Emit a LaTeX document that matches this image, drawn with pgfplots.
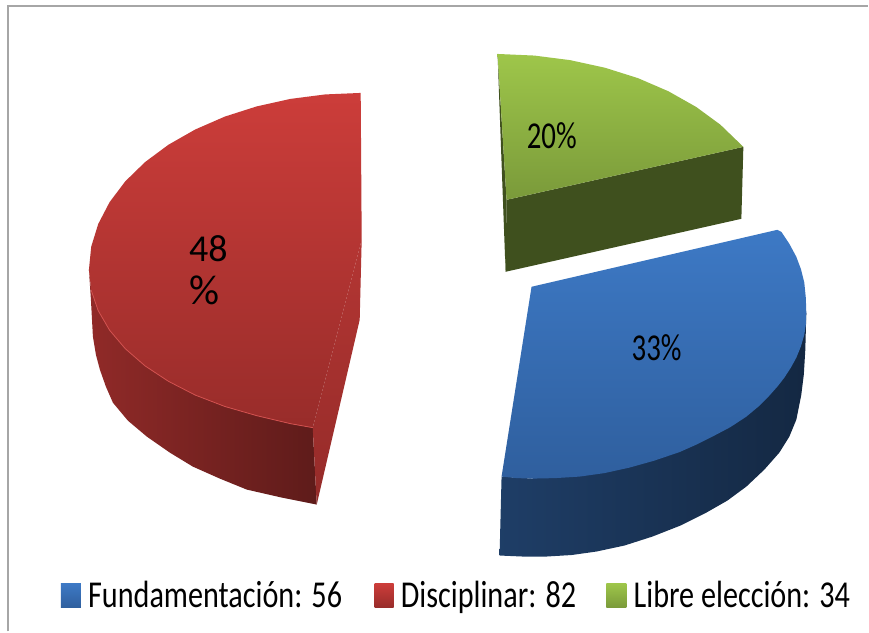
\documentclass[border=0pt]{standalone}
\usepackage{fontspec}
\setmainfont{Carlito}
\usepackage{pgfplots}
\pgfplotsset{compat=1.18}
\definecolor{rt}{HTML}{CC3D3A}\definecolor{rb}{HTML}{982C2A}
\definecolor{bt}{HTML}{3D79C5}\definecolor{bb}{HTML}{2F5F9E}
\definecolor{gt}{HTML}{9EC64A}\definecolor{gb}{HTML}{7A9A3A}
\newcommand{\lab}[1]{\fontsize{38}{38}\selectfont\scalebox{0.795}[1]{#1}}
\newcommand{\labp}[1]{\fontsize{38}{38}\selectfont\scalebox{0.76}[1]{#1}}
\begin{document}
\begin{tikzpicture}
\begin{axis}[scale only axis,width=869pt,height=632pt,xmin=0,xmax=869,ymin=0,ymax=632,y dir=reverse,axis lines=none,clip=false]
% page
\addplot[draw=none,fill=white] coordinates {(0,0)(869,0)(869,632)(0,632)} -- cycle;
% frame
\addplot[draw=gray!70,line width=1.5pt] coordinates {(8,632) (8,6) (869,6)};
% red
\addplot[draw=none,left color=rb!95!black,right color=rb!62!black] coordinates {(89,270)(91,300)(93,337)(96,355)(100,370)(106,387)(113,403)(128,421)(147,437)(170,453)(193,467)(220,479)(247,490)(282,498)(317,505)(313,428)(290.6,424)(256.9,416)(225,406.8)(195.4,395.4)(168.7,381.7)(145.2,366.2)(125.4,349)(109.7,330.5)(98.3,310.9)(91.3,290.6)} -- cycle;
\addplot[draw=none,top color=rt!88!black,bottom color=rb!98!black] coordinates {(362,240)(313,428)(317,505)(360,320)} -- cycle;
\addplot[draw=none,top color=rt,bottom color=rb] coordinates {(361,93)(325.5,94.5)(290.6,99)(256.9,106.5)(225,116.7)(195.4,129.6)(168.7,144.8)(145.2,162.2)(125.4,181.5)(109.7,202.3)(98.3,224.2)(91.3,246.9)(89,270)(91.3,290.6)(98.3,310.9)(109.7,330.5)(125.4,349)(145.2,366.2)(168.7,381.7)(195.4,395.4)(225,406.8)(256.9,416)(290.6,424)(313,428)(362,240)} -- cycle;
\addplot[draw=rt!90!white,line width=0.8pt] coordinates {(91.3,290.6)(98.3,310.9)(109.7,330.5)(125.4,349)(145.2,366.2)(168.7,381.7)(195.4,395.4)(225,406.8)(256.9,416)(290.6,424)(313,428)};
% green
\addplot[draw=none,fill=gb!52!black] coordinates {(744,147)(742,219)(506,272)(507,200)} -- cycle;
\addplot[draw=none,fill=gb!52!black] coordinates {(498,54)(507,200)(506,272)} -- cycle;
\addplot[draw=none,top color=gt,bottom color=gb] coordinates {(498,54)(534.7,55.6)(570.7,60.2)(605.5,67.8)(638.5,78.2)(669.1,91.4)(696.7,107)(721,124.8)(744,147)(507,200)} -- cycle;
% blue
\addplot[draw=none,left color=bb!65!black,right color=bb!42!black] coordinates {(807,313)(806,350)(804.5,375)(802,395)(797,420)(790,437)(780,453)(765,470)(747,487)(728,501)(707,513)(681,526)(653,537)(625,546)(597,552)(572,555.5)(547,557)(523,557)(500,556)(502,477)(533,479)} -- cycle;
\addplot[draw=none,top color=bt,bottom color=bb] coordinates {(532,287)(778,230)(782,232)(790,244)(797,257)(801.5,269)(805,283)(806.5,298)(807,313)(806.5,325)(805,335)(801.5,347)(797,358)(791.5,368)(785,378)(778,387)(770,396)(759,407)(747,417)(731,427.5)(713,437)(697,445)(680,452.5)(655,461)(630,468)(605,473.5)(580,477)(556,478.5)(533,479)(517,478.5)(502,477)} -- cycle;
% legend swatches
\addplot[draw=none,top color=bt,bottom color=bb] coordinates {(61,584)(81,584)(81,608)(61,608)} -- cycle;
\addplot[draw=none,top color=rt,bottom color=rb] coordinates {(375,584)(394,584)(394,608)(375,608)} -- cycle;
\addplot[draw=none,top color=gt,bottom color=gb] coordinates {(607,584)(627,584)(627,608)(607,608)} -- cycle;
% text
\node[anchor=base west,inner sep=0pt] at (axis cs:88,608) {\lab{Fundamentación: 56}};
\node[anchor=base west,inner sep=0pt] at (axis cs:401,608) {\lab{Disciplinar: 82}};
\node[anchor=base west,inner sep=0pt] at (axis cs:634,608) {\lab{Libre elección: 34}};
\node[anchor=base west,inner sep=0pt] at (axis cs:527,149) {\labp{20\%}};
\node[anchor=base west,inner sep=0pt] at (axis cs:632,361) {\labp{33\%}};
\node[anchor=base west,inner sep=0pt] at (axis cs:189,262) {\fontsize{38}{38}\selectfont 48};
\node[anchor=base west,inner sep=0pt] at (axis cs:189,305) {\fontsize{42}{42}\selectfont \%};
\end{axis}
\end{tikzpicture}
\end{document}
